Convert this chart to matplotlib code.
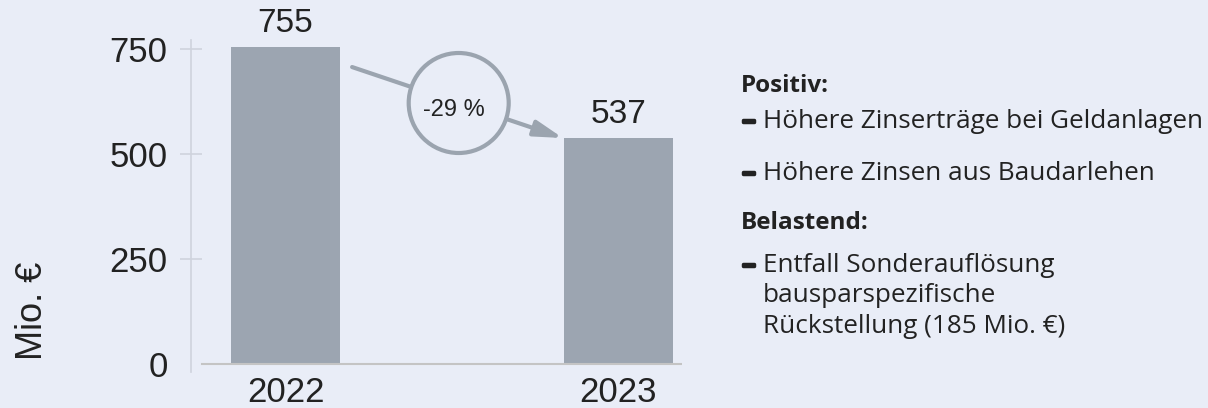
import matplotlib
matplotlib.use('Agg')
import matplotlib.pyplot as plt
import matplotlib.patheffects as pe
from matplotlib.patches import Ellipse

years = ['2022', '2023']
values = [755, 537]
yticks = [0, 250, 500, 750]
change_label = '-29 %'
y_label = 'Mio. €'

header_pos = 'Positiv:'
items_pos = ['Höhere Zinserträge bei Geldanlagen', 'Höhere Zinsen aus Baudarlehen']
header_neg = 'Belastend:'
items_neg = ['Entfall Sonderauflösung\nbausparspezifische\nRückstellung (185 Mio. €)']

bg = '#e9edf7'
bar_col = '#9ca5b1'
txt_col = '#222222'
line_col = '#cfd3dd'
W, H = 1208, 408

plt.rcParams['font.family'] = ['Liberation Sans', 'DejaVu Sans']

fig = plt.figure(figsize=(W / 100, H / 100), dpi=100, facecolor=bg)
ax = fig.add_axes([191 / W, 1 - 372 / H, 491 / W, 332 / H])
ax.set_facecolor(bg)

x = list(range(len(years)))
ax.bar(x, values, width=0.327, color=bar_col, zorder=2)
for xi, v in zip(x, values):
    ax.annotate(str(v), (xi, v), xytext=(0, 6), textcoords='offset points',
                ha='center', va='bottom', fontsize=24, color=txt_col)

ax.set_xlim(-0.2838, 1.1907)
ax.set_ylim(-19.05, 771.4)
ax.set_yticks(yticks)
ax.set_yticklabels([str(t) for t in yticks])
ax.set_xticks(x)
ax.set_xticklabels(years)

for s in ['top', 'right', 'bottom']:
    ax.spines[s].set_visible(False)
ax.spines['left'].set_color(line_col)
ax.spines['left'].set_linewidth(1.2)
ax.tick_params(axis='y', direction='inout', length=15.8, width=1.2, color=line_col,
               labelsize=25, labelcolor=txt_col, pad=9)
ax.tick_params(axis='x', length=0, labelsize=25, labelcolor=txt_col, pad=3)
ax.yaxis.get_major_ticks()[0].tick1line.set_visible(False)
ax.axhline(0, xmin=0.0224, xmax=1, color='#c4c4c4', lw=1.5, zorder=3)

# change arrow with circle
arrow_col = '#9ba4af'
ax.annotate('', xy=(0.833, 538), xytext=(0.2, 707),
            arrowprops=dict(arrowstyle='-|>,head_length=0.85,head_width=0.24',
                            mutation_scale=20, lw=3, color=arrow_col,
                            shrinkA=0, shrinkB=0), zorder=4)
circ = Ellipse((458.7 / W, 1 - 103 / H), 100 / W, 100 / H, transform=fig.transFigure,
               facecolor=bg, edgecolor=arrow_col, lw=3, zorder=5)
fig.patches.append(circ)
fig.text(454 / W, 1 - 110 / H, change_label, ha='center', va='center',
         fontsize=17, color=txt_col, zorder=6)

fig.text(32 / W, 1 - 311 / H, y_label, rotation=90, ha='center', va='center',
         fontsize=26, color=txt_col)

# right-hand notes
fam = ['Open Sans', 'DejaVu Sans']
x_head = 741 / W
x_item = 763 / W
fs = 18.8
dash_fx = [pe.withStroke(linewidth=2.5, foreground=txt_col)]


def bullet(yb):
    fig.text(x_head + 1 / W, 1 - yb / H, '–', fontsize=fs, fontweight='bold', family=fam,
             color=txt_col, va='baseline', path_effects=dash_fx)


fig.text(x_head, 1 - 92 / H, header_pos, fontsize=17.5, fontweight='bold',
         family=fam, color=txt_col, va='baseline')
for item, yb in zip(items_pos, [128, 180]):
    bullet(yb)
    fig.text(x_item, 1 - yb / H, item, fontsize=fs, family=fam, color=txt_col,
             va='baseline')
fig.text(x_head, 1 - 229 / H, header_neg, fontsize=17.5, fontweight='bold',
         family=fam, color=txt_col, va='baseline')
for item, yb in zip(items_neg, [272]):
    lines = item.split('\n')
    bullet(yb)
    for i, ln in enumerate(lines):
        fig.text(x_item, 1 - (yb + 30.5 * i) / H, ln, fontsize=fs, family=fam,
                 color=txt_col, va='baseline')

fig.savefig('out.png', dpi=100, facecolor=bg)
